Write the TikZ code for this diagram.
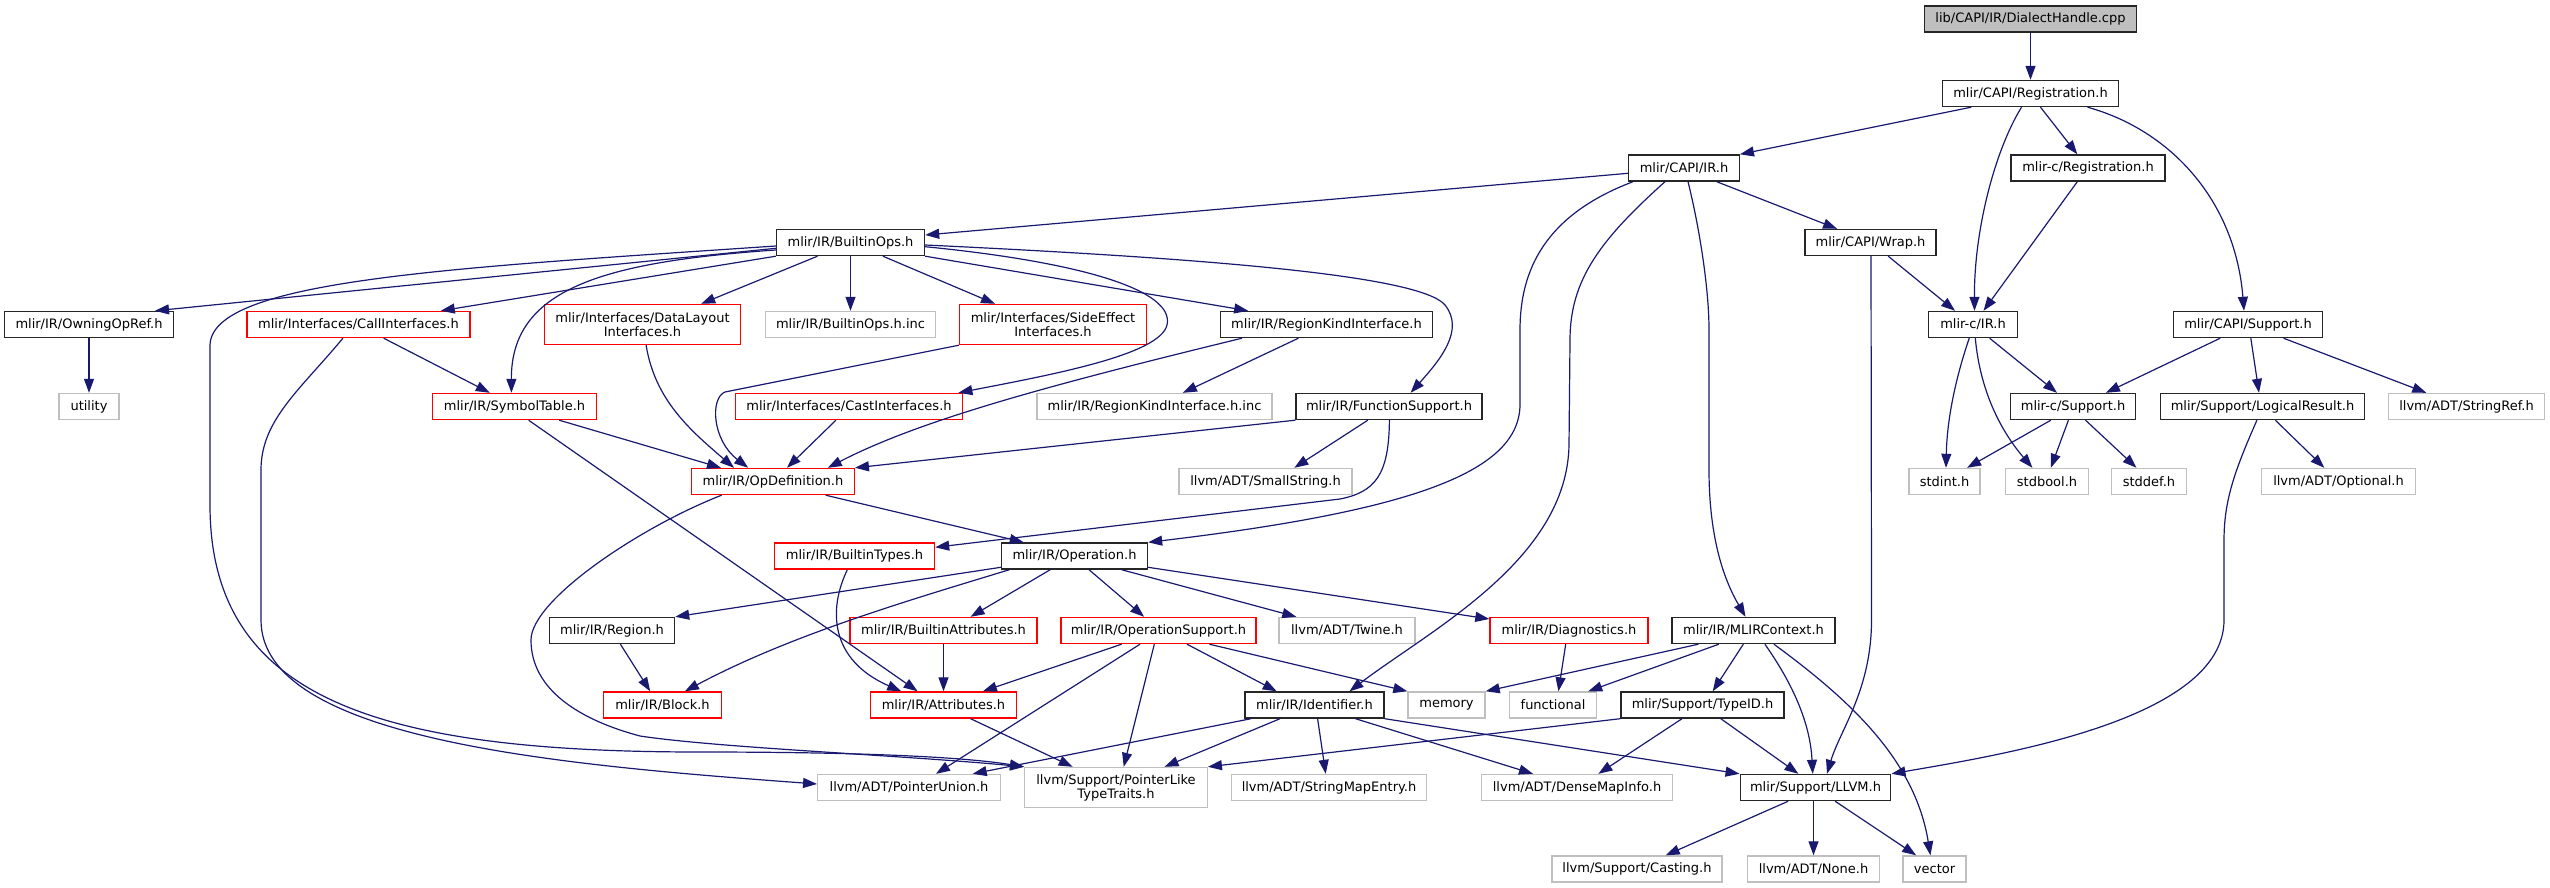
\documentclass[tikz,border=0pt]{standalone}
\usepackage{fontspec}
\newfontfamily\dvs{DejaVu Sans}
\usetikzlibrary{arrows.meta}
\definecolor{grey75}{RGB}{191,191,191}
\definecolor{midblue}{RGB}{25,25,112}
\definecolor{nodered}{RGB}{255,0,0}
\tikzset{
 base/.style={rectangle, inner sep=0pt, minimum height=26pt, font={\dvs\fontsize{13}{14}\selectfont}, text=black, line width=1.4pt, fill=white},
 bk/.style={base, draw=black!85},
 rd/.style={base, draw=nodered},
 gy/.style={base, draw=grey75},
 root/.style={base, draw=black!85, fill=grey75},
 two/.style={minimum height=40pt, align=center},
 lnk/.style={draw=midblue, line width=1.2pt, -{Triangle[length=14pt,width=10pt]}},
}
\begin{document}
\begin{tikzpicture}[x=1pt,y=-1pt]
\useasboundingbox (0,0) rectangle (2550,888);
\node[root, minimum width=212pt] (dh) at (2030.5,19) {lib/CAPI/IR/DialectHandle.cpp};
\node[bk, minimum width=176pt] (capireg) at (2030.5,93.5) {mlir/CAPI/Registration.h};
\node[bk, minimum width=110.5pt] (capiir) at (1684,168) {mlir/CAPI/IR.h};
\node[bk, minimum width=154pt] (creg) at (2088,168) {mlir-c/Registration.h};
\node[bk, minimum width=148pt] (builtinops) at (850.5,242.5) {mlir/IR/BuiltinOps.h};
\node[bk, minimum width=131pt] (wrap) at (1870.5,242.5) {mlir/CAPI/Wrap.h};
\node[bk, minimum width=169pt] (owning) at (89,324.5) {mlir/IR/OwningOpRef.h};
\node[rd, minimum width=223pt] (callif) at (358.5,324.5) {mlir/Interfaces/CallInterfaces.h};
\node[rd, two, minimum width=196pt] (datalayout) at (642.5,324.5) {mlir/Interfaces/DataLayout\\Interfaces.h};
\node[gy, minimum width=170.5pt] (binc) at (850.5,324.5) {mlir/IR/BuiltinOps.h.inc};
\node[rd, two, minimum width=187pt] (sideeff) at (1053,324.5) {mlir/Interfaces/SideEffect\\Interfaces.h};
\node[bk, minimum width=212pt] (regionkind) at (1326.5,324.5) {mlir/IR/RegionKindInterface.h};
\node[bk, minimum width=88.5pt] (cir) at (1973,324.5) {mlir-c/IR.h};
\node[bk, minimum width=148.5pt] (capisupp) at (2248,324.5) {mlir/CAPI/Support.h};
\node[gy, minimum width=60pt] (utility) at (89,406.5) {utility};
\node[rd, minimum width=164.5pt] (symtab) at (514.5,406.5) {mlir/IR/SymbolTable.h};
\node[rd, minimum width=227pt] (castif) at (849,406.5) {mlir/Interfaces/CastInterfaces.h};
\node[gy, minimum width=235pt] (rkinc) at (1154.5,406.5) {mlir/IR/RegionKindInterface.h.inc};
\node[bk, minimum width=186pt] (funcsupp) at (1389,406.5) {mlir/IR/FunctionSupport.h};
\node[bk, minimum width=125.5pt] (csupp) at (2073,406.5) {mlir-c/Support.h};
\node[bk, minimum width=204pt] (logres) at (2262.5,406.5) {mlir/Support/LogicalResult.h};
\node[gy, minimum width=156pt] (strref) at (2466.5,406.5) {llvm/ADT/StringRef.h};
\node[rd, minimum width=162.5pt] (opdef) at (773,481.5) {mlir/IR/OpDefinition.h};
\node[gy, minimum width=173pt] (smallstr) at (1265.5,481.5) {llvm/ADT/SmallString.h};
\node[gy, minimum width=71pt] (stdint) at (1944.5,481.5) {stdint.h};
\node[gy, minimum width=83.5pt] (stdbool) at (2047,481.5) {stdbool.h};
\node[gy, minimum width=75pt] (stddef) at (2149,481.5) {stddef.h};
\node[gy, minimum width=153.5pt] (optional) at (2338.5,481.5) {llvm/ADT/Optional.h};
\node[rd, minimum width=160pt] (btypes) at (854.5,556) {mlir/IR/BuiltinTypes.h};
\node[bk, minimum width=146pt] (operation) at (1074.5,556) {mlir/IR/Operation.h};
\node[bk, minimum width=125pt] (region) at (612,630.5) {mlir/IR/Region.h};
\node[rd, minimum width=187pt] (battrs) at (943.5,630.5) {mlir/IR/BuiltinAttributes.h};
\node[rd, minimum width=195pt] (opsupp) at (1158.5,630.5) {mlir/IR/OperationSupport.h};
\node[gy, minimum width=136pt] (twine) at (1347,630.5) {llvm/ADT/Twine.h};
\node[rd, minimum width=158pt] (diag) at (1569,630.5) {mlir/IR/Diagnostics.h};
\node[bk, minimum width=163pt] (mlirctx) at (1753.5,630.5) {mlir/IR/MLIRContext.h};
\node[rd, minimum width=117.5pt] (block) at (662.5,705) {mlir/IR/Block.h};
\node[rd, minimum width=145.5pt] (attrs) at (943.5,705) {mlir/IR/Attributes.h};
\node[bk, minimum width=139pt] (ident) at (1314.5,705) {mlir/IR/Identifier.h};
\node[gy, minimum width=77pt] (memory) at (1446.5,705) {memory};
\node[gy, minimum width=86.5pt] (functional) at (1553,705) {functional};
\node[bk, minimum width=163pt] (typeid) at (1702.5,705) {mlir/Support/TypeID.h};
\node[gy, minimum width=182.5pt] (ptrunion) at (909,787.5) {llvm/ADT/PointerUnion.h};
\node[gy, two, minimum width=182.5pt] (ptrlike) at (1116,787.5) {llvm/Support/PointerLike\\TypeTraits.h};
\node[gy, minimum width=195pt] (strmap) at (1329,787.5) {llvm/ADT/StringMapEntry.h};
\node[gy, minimum width=191pt] (densemap) at (1577,787.5) {llvm/ADT/DenseMapInfo.h};
\node[bk, minimum width=150.5pt] (llvmh) at (1815.5,787.5) {mlir/Support/LLVM.h};
\node[gy, minimum width=170pt] (casting) at (1637,869) {llvm/Support/Casting.h};
\node[gy, minimum width=132pt] (none) at (1813.5,869) {llvm/ADT/None.h};
\node[gy, minimum width=63pt] (vector) at (1934.5,869) {vector};

\draw[lnk] (dh) -- (capireg);
\draw[lnk] ([xshift=-59.3pt]capireg.south) -- (capiir.north east);
\draw[lnk] ([xshift=-9pt]capireg.south) .. controls (1995,150) and (1974,230) .. ([xshift=1.5pt]cir.north);
\draw[lnk] ([xshift=10pt]capireg.south) -- ([xshift=-10.7pt]creg.north);
\draw[lnk] ([xshift=57pt]capireg.south) .. controls (2170,130) and (2235,200) .. ([xshift=-4pt]capisupp.north);
\draw[lnk] ([xshift=-10.7pt]creg.south) -- ([xshift=10.5pt]cir.north);
\draw[lnk] ([yshift=-5.3pt]capiir.west) -- ([yshift=7.5pt]builtinops.east);
\draw[lnk] ([xshift=32.7pt]capiir.south) -- ([xshift=-33.4pt]wrap.north);
\draw[lnk] ([xshift=-51pt]capiir.south) .. controls (1545,215) and (1520,270) .. (1520,330) -- (1520,405) .. controls (1519,470) and (1420,510) .. (operation.north east);
\draw[lnk] ([xshift=-19pt]capiir.south) .. controls (1600,240) and (1570,280) .. (1570,340) -- (1569,445) .. controls (1567,560) and (1430,630) .. ([xshift=35pt]ident.north);
\draw[lnk] ([xshift=4pt]capiir.south) .. controls (1700,230) and (1709,290) .. (1709,330) -- (1709,470) .. controls (1709,550) and (1730,590) .. ([xshift=-8pt]mlirctx.north);
\draw[lnk] ([xshift=17.7pt]wrap.south) -- ([xshift=-18pt]cir.north);
\draw[lnk] ([xshift=0.5pt]wrap.south) -- (1871.5,620) .. controls (1871.5,690) and (1840,730) .. ([xshift=11.5pt]llvmh.north);
\draw[lnk] ([xshift=16.6pt]cir.south) -- ([xshift=-16pt]csupp.north);
\draw[lnk] ([xshift=-3.8pt]cir.south) .. controls (1955,380) and (1947,420) .. ([xshift=1.5pt]stdint.north);
\draw[lnk] ([xshift=2.3pt]cir.south) .. controls (1980,390) and (2000,430) .. ([xshift=-14.6pt]stdbool.north);
\draw[lnk] ([xshift=-22.2pt]csupp.south) -- ([xshift=22.6pt]stdint.north);
\draw[lnk] ([xshift=-4.6pt]csupp.south) -- ([xshift=3.8pt]stdbool.north);
\draw[lnk] ([xshift=12.5pt]csupp.south) -- ([xshift=-12.5pt]stddef.north);
\draw[lnk] ([xshift=-27.8pt]capisupp.south) -- ([xshift=32.9pt]csupp.north);
\draw[lnk] ([xshift=2.8pt]capisupp.south) -- ([xshift=-3.5pt]logres.north);
\draw[lnk] ([xshift=35.5pt]capisupp.south) -- ([xshift=-40.2pt]strref.north);
\draw[lnk] ([xshift=12.8pt]logres.south) -- ([xshift=-14.2pt]optional.north);
\draw[lnk] ([xshift=-5.6pt]logres.south) .. controls (2235,470) and (2224,500) .. (2224,540) -- (2224,620) .. controls (2224,720) and (2000,755) .. (llvmh.north east);
\draw[lnk] ([yshift=-5.8pt]builtinops.west) -- ([xshift=66pt]owning.north);
\draw[lnk] (owning) -- (utility);
\draw[lnk] ([yshift=-7.5pt]builtinops.west) .. controls (600,262) and (511,290) .. ([xshift=-3.1pt]symtab.north);
\draw[lnk] (builtinops.south west) -- ([xshift=82.3pt]callif.north);
\draw[lnk] ([xshift=-33pt]builtinops.south) -- ([xshift=58.7pt]datalayout.north);
\draw[lnk] (builtinops) -- (binc);
\draw[lnk] ([xshift=32.4pt]builtinops.south) -- ([xshift=-58pt]sideeff.north);
\draw[lnk] (builtinops.south east) -- ([xshift=-78.3pt]regionkind.north);
\draw[lnk] ([yshift=-4.2pt]builtinops.east) .. controls (1080,262) and (1175,290) .. (1167,325) .. controls (1160,355) and (1050,375) .. ([xshift=109.4pt]castif.north);
\draw[lnk] ([yshift=-2.5pt]builtinops.east) .. controls (1200,258) and (1420,275) .. (1445,305) .. controls (1465,330) and (1440,360) .. ([xshift=21.6pt]funcsupp.north);
\draw[lnk] ([yshift=-3.5pt]builtinops.west) .. controls (450,268) and (212,280) .. (210,345) -- (210,505) .. controls (210,700) and (380,752) .. (700,752) .. controls (880,752) and (970,758) .. (ptrlike.north west);
\draw[lnk] ([xshift=25.2pt]callif.south) -- ([xshift=-24.7pt]symtab.north);
\draw[lnk] ([xshift=-15.6pt]callif.south) .. controls (300,390) and (261,420) .. (261,470) -- (261,620) .. controls (261,740) and (560,765) .. ([yshift=3.5pt]ptrunion.west);
\draw[lnk] ([xshift=3.6pt]datalayout.south) .. controls (655,400) and (690,430) .. ([xshift=-39pt]opdef.north);
\draw[lnk] (sideeff.south west) -- (725,392) .. controls (710,398) and (712,440) .. ([xshift=-24.8pt]opdef.north);
\draw[lnk] ([xshift=-13.1pt]castif.south) -- ([xshift=14pt]opdef.north);
\draw[lnk] ([xshift=-84.5pt]regionkind.south) .. controls (1050,385) and (920,420) .. ([xshift=54.8pt]opdef.north);
\draw[lnk] ([xshift=-28.1pt]regionkind.south) -- ([xshift=28.4pt]rkinc.north);
\draw[lnk] (funcsupp.south west) -- (opdef.north east);
\draw[lnk] ([xshift=-21.2pt]funcsupp.south) -- ([xshift=28.8pt]smallstr.north);
\draw[lnk] ([xshift=0.4pt]funcsupp.south) .. controls (1389,475) and (1375,492) .. (1340,499) -- ([yshift=8.7pt]btypes.east);
\draw[lnk] ([xshift=44.7pt]symtab.south) -- ([xshift=-52pt]opdef.north);
\draw[lnk] ([xshift=14.1pt]symtab.south) -- ([xshift=-25.9pt]attrs.north);
\draw[lnk] ([xshift=52.7pt]opdef.south) -- ([xshift=-50.8pt]operation.north);
\draw[lnk] ([xshift=-51.4pt]opdef.south) .. controls (640,527) and (531,600) .. (531,640) .. controls (531,690) and (580,720) .. (640,736) .. controls (720,748) and (900,755) .. (ptrlike.north west);
\draw[lnk] ([xshift=-7.2pt]btypes.south) .. controls (828,610) and (830,660) .. ([xshift=-42.3pt]attrs.north);
\draw[lnk] ([yshift=-11.3pt]operation.west) -- (region.north east);
\draw[lnk] ([xshift=-65.1pt]operation.south) .. controls (910,600) and (790,635) .. ([xshift=22.4pt]block.north);
\draw[lnk] ([xshift=-24.3pt]operation.south) -- ([xshift=27.1pt]battrs.north);
\draw[lnk] ([xshift=14.5pt]operation.south) -- ([xshift=-14.4pt]opsupp.north);
\draw[lnk] ([xshift=47.1pt]operation.south) -- ([xshift=-50.7pt]twine.north);
\draw[lnk] ([yshift=-11.3pt]operation.east) -- ([yshift=11.5pt]diag.west);
\draw[lnk] ([xshift=8.4pt]region.south) -- ([xshift=-12.3pt]block.north);
\draw[lnk] (battrs) -- (attrs);
\draw[lnk] ([xshift=-36.9pt]opsupp.south) -- ([xshift=39.4pt]attrs.north);
\draw[lnk] ([xshift=-18.5pt]opsupp.south) -- ([xshift=27pt]ptrunion.north);
\draw[lnk] ([xshift=-4.2pt]opsupp.south) -- ([xshift=7.7pt]ptrlike.north);
\draw[lnk] ([xshift=28.5pt]opsupp.south) -- ([xshift=-37.8pt]ident.north);
\draw[lnk] ([xshift=50.9pt]opsupp.south) -- (memory.north west);
\draw[lnk] ([xshift=27.1pt]attrs.south) -- ([xshift=-43.3pt]ptrlike.north);
\draw[lnk] ([xshift=-63.5pt]ident.south) -- ([xshift=63.7pt]ptrunion.north);
\draw[lnk] ([xshift=-34.5pt]ident.south) -- ([xshift=48.5pt]ptrlike.north);
\draw[lnk] ([xshift=3.1pt]ident.south) -- ([xshift=-3.3pt]strmap.north);
\draw[lnk] ([xshift=41pt]ident.south) -- ([xshift=-44pt]densemap.north);
\draw[lnk] (ident.south east) -- (llvmh.north west);
\draw[lnk] ([xshift=-3.3pt]diag.south) -- ([xshift=5.4pt]functional.north);
\draw[lnk] ([xshift=-55.1pt]mlirctx.south) -- (memory.north east);
\draw[lnk] ([xshift=-34.7pt]mlirctx.south) -- ([xshift=35.2pt]functional.north);
\draw[lnk] ([xshift=-10.2pt]mlirctx.south) -- ([xshift=10.2pt]typeid.north);
\draw[lnk] ([xshift=11.4pt]mlirctx.south) .. controls (1790,680) and (1810,720) .. ([xshift=-2.8pt]llvmh.north);
\draw[lnk] ([xshift=20.4pt]mlirctx.south) .. controls (1850,700) and (1915,760) .. ([xshift=-4.1pt]vector.north);
\draw[lnk] (typeid.south west) -- (ptrlike.north east);
\draw[lnk] ([xshift=-20.5pt]typeid.south) -- ([xshift=21.4pt]densemap.north);
\draw[lnk] ([xshift=18.3pt]typeid.south) -- ([xshift=-17.1pt]llvmh.north);
\draw[lnk] ([xshift=-27.3pt]llvmh.south) -- ([xshift=28.7pt]casting.north);
\draw[lnk] ([xshift=-2pt]llvmh.south) -- (none.north);
\draw[lnk] ([xshift=19.6pt]llvmh.south) -- ([xshift=-18.4pt]vector.north);
\end{tikzpicture}
\end{document}
